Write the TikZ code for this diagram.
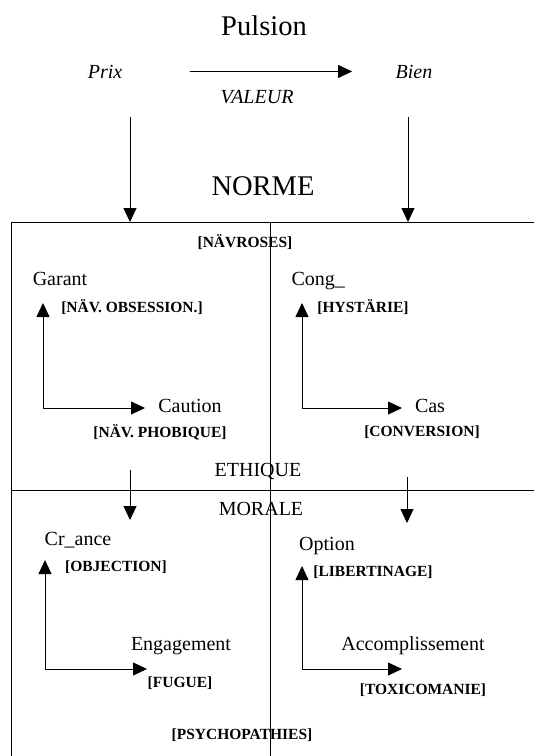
\documentclass[tikz,border=0pt]{standalone}
\usepackage{fontspec}
\setmainfont{Liberation Serif}
\usetikzlibrary{arrows.meta}

\begin{document}
\begin{tikzpicture}[x=1pt,y=-1pt,
	big/.style={font=\fontsize{28.5}{31}\selectfont, anchor=base},
	lab/.style={font=\fontsize{20}{22}\selectfont, anchor=base},
	ital/.style={font=\itshape\fontsize{20}{22}\selectfont, anchor=base},
	tag/.style={font=\bfseries\fontsize{15.5}{17}\selectfont},
	arr/.style={-{Triangle[length=14pt,width=13pt]}, line width=0.8pt},
	duo/.style={{Triangle[length=14pt,width=13pt]}-{Triangle[length=14pt,width=13pt]}, line width=0.8pt}]

	\useasboundingbox (0,0) rectangle (534,756);

	% frame
	\draw[line width=0.8pt] (534,222) -- (11,222) -- (11,756);
	\draw[line width=0.8pt] (270,222) -- (270,756);
	\draw[line width=0.8pt] (11,490) -- (534,490);

	% top
	\node[big] (pulsion) at (264,35)  {Pulsion};
	\node[ital] (prix)   at (105,78)  {Prix};
	\node[ital] (bien)   at (414,78)  {Bien};
	\node[ital] (valeur) at (257,103) {VALEUR};
	\node[big] (norme)   at (263,195) {NORME};

	\path[arr] (prix) edge[shorten <=64pt, shorten >=40pt] (bien);

	\coordinate (prixtop) at (130,117);
	\coordinate (prixbot) at (130,222);
	\coordinate (bientop) at (408,117);
	\coordinate (bienbot) at (408,222);
	\draw[arr] (prixtop) -- (prixbot);
	\draw[arr] (bientop) -- (bienbot);

	% upper half
	\node[tag] (nevroses)  at (245,242) {[NÄVROSES]};
	\node[lab] (garant)    at (60,285)  {Garant};
	\node[tag] (obsession) at (132,307) {[NÄV. OBSESSION.]};
	\node[lab] (caution)   at (190,412) {Caution};
	\node[tag] (phobique)  at (160,432) {[NÄV. PHOBIQUE]};
	\node[lab,anchor=base west] (conge) at (288,285) {Cong\_};
	\node[tag] (hysterie)  at (363,307) {[HYSTÄRIE]};
	\node[lab] (cas)       at (430,412) {Cas};
	\node[tag] (conversion) at (422,432) {[CONVERSION]};
	\node[lab] (ethique)   at (258,476) {ETHIQUE};

	\coordinate (garanttip)  at (43,303);
	\coordinate (cautiontip) at (145,408);
	\coordinate (congetip)   at (302,303);
	\coordinate (castip)     at (402,408);
	\draw[duo] (garanttip) |- (cautiontip);
	\draw[duo] (congetip) |- (castip);

	% lower half
	\node[lab] (morale)    at (261,515) {MORALE};
	\node[lab] (creance)   at (78,545)  {Cr\_ance};
	\node[tag] (objection) at (116,567) {[OBJECTION]};
	\node[lab] (engagement) at (181,650) {Engagement};
	\node[tag] (fugue)     at (180,683) {[FUGUE]};
	\node[lab] (option)    at (327,550) {Option};
	\node[tag] (libertinage) at (373,572) {[LIBERTINAGE]};
	\node[lab] (accomp)    at (413,650) {Accomplissement};
	\node[tag] (toxico)    at (423,690) {[TOXICOMANIE]};
	\node[tag] (psycho)    at (242,735) {[PSYCHOPATHIES]};

	\coordinate (ethleft)  at (130,470);
	\coordinate (morleft)  at (130,520);
	\coordinate (ethright) at (407,477);
	\coordinate (morright) at (407,523);
	\draw[arr] (ethleft) -- (morleft);
	\draw[arr] (ethright) -- (morright);

	\coordinate (creancetip) at (45,560);
	\coordinate (engagtip)   at (147,669);
	\coordinate (optiontip)  at (302,566);
	\coordinate (accomptip)  at (402,669);
	\draw[duo] (creancetip) |- (engagtip);
	\draw[duo] (optiontip) |- (accomptip);

\end{tikzpicture}
\end{document}
